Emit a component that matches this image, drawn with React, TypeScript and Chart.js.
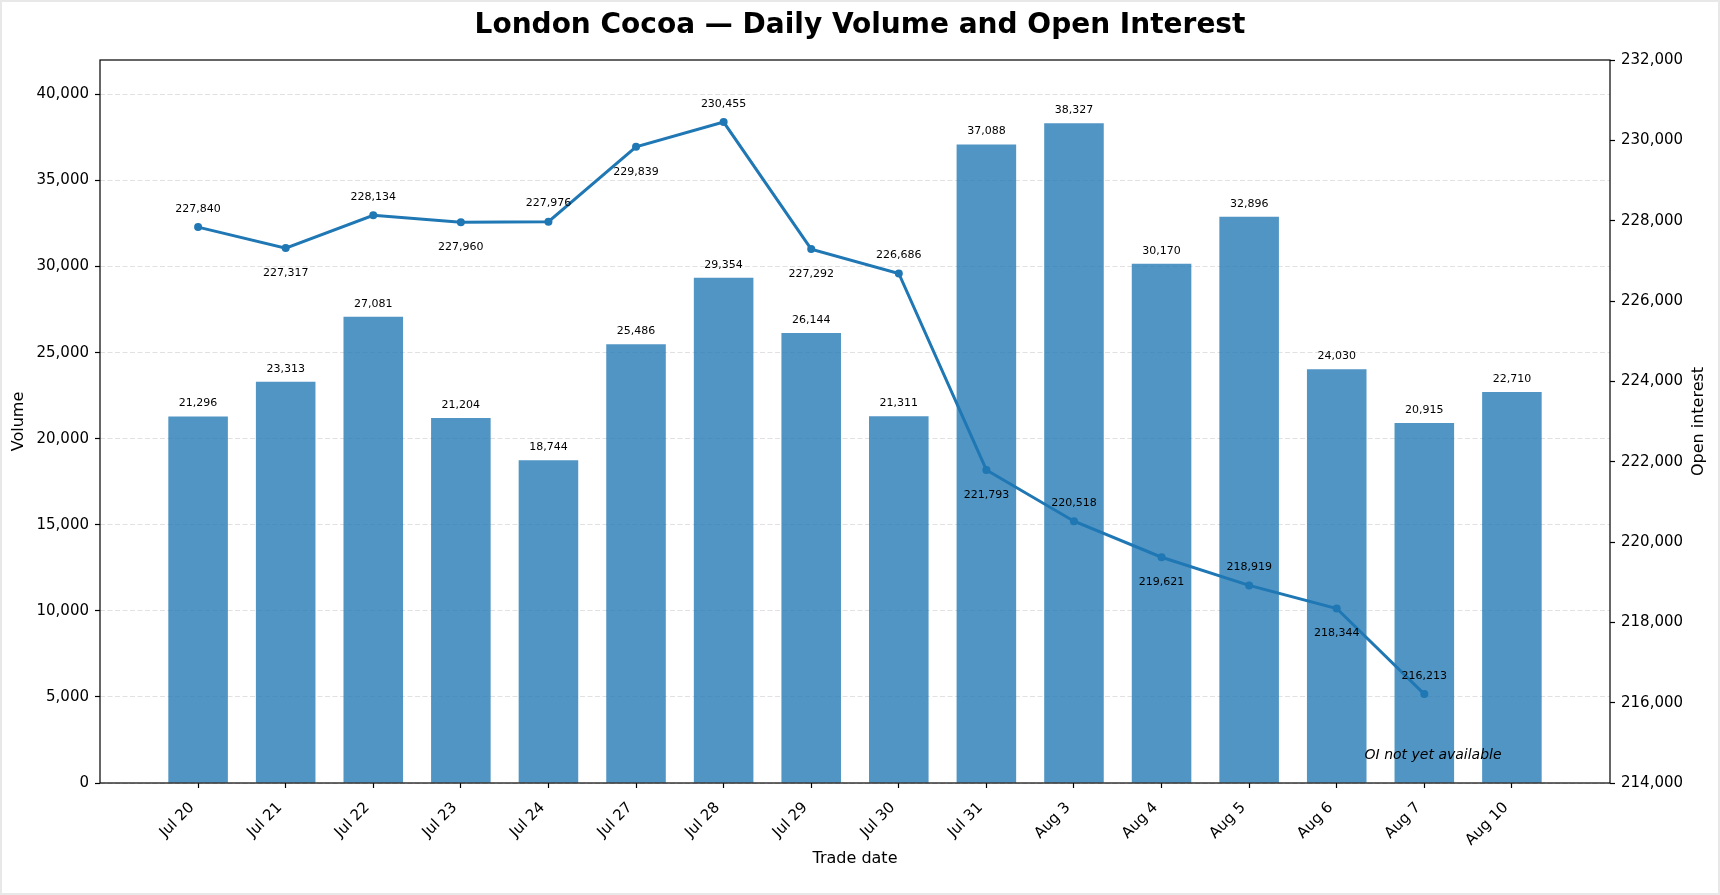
import React, { useEffect, useRef } from "react";
import { Chart, registerables } from "chart.js";

Chart.register(...registerables);

const tradeDates = [
  "Jul 20", "Jul 21", "Jul 22", "Jul 23", "Jul 24", "Jul 27", "Jul 28", "Jul 29",
  "Jul 30", "Jul 31", "Aug 3", "Aug 4", "Aug 5", "Aug 6", "Aug 7", "Aug 10",
];
const volume = [
  21296, 23313, 27081, 21204, 18744, 25486, 29354, 26144,
  21311, 37088, 38327, 30170, 32896, 24030, 20915, 22710,
];
const openInterest: (number | null)[] = [
  227840, 227317, 228134, 227960, 227976, 229839, 230455, 227292,
  226686, 221793, 220518, 219621, 218919, 218344, 216213, null,
];
const volumeTicks = [0, 5000, 10000, 15000, 20000, 25000, 30000, 35000, 40000];
const oiTicks = [214000, 216000, 218000, 220000, 222000, 224000, 226000, 228000, 230000, 232000];

const FONT = "'DejaVu Sans', sans-serif";
const fmt = (v: number) => Number(v).toLocaleString("en-US");

const labelsPlugin = {
  id: "valueLabels",
  afterDatasetsDraw(chart: any) {
    const { ctx, scales } = chart;
    const x = scales.x;
    const y = scales.y;
    const y1 = scales.y1;
    ctx.save();
    ctx.fillStyle = "#000";
    ctx.textAlign = "center";
    ctx.textBaseline = "middle";
    ctx.font = `11px ${FONT}`;
    volume.forEach((v, i) => {
      ctx.fillText(fmt(v), x.getPixelForValue(i), y.getPixelForValue(v) - 13);
    });
    openInterest.forEach((v, i) => {
      if (v == null) return;
      const off = i % 2 === 0 ? -18 : 25;
      ctx.fillText(fmt(v), x.getPixelForValue(i), y1.getPixelForValue(v) + off);
    });
    ctx.font = `italic 14px ${FONT}`;
    ctx.fillText("OI not yet available", x.getPixelForValue(14.1), y1.getPixelForValue(214680));
    ctx.restore();
  },
  afterDraw(chart: any) {
    const { ctx, chartArea } = chart;
    ctx.save();
    ctx.strokeStyle = "#000";
    ctx.lineWidth = 1.2;
    ctx.strokeRect(chartArea.left, chartArea.top, chartArea.right - chartArea.left, chartArea.bottom - chartArea.top);
    // right axis title, reading bottom to top like matplotlib
    ctx.translate(1699, (chartArea.top + chartArea.bottom) / 2);
    ctx.rotate(-Math.PI / 2);
    ctx.fillStyle = "#000";
    ctx.font = `16px ${FONT}`;
    ctx.textAlign = "center";
    ctx.textBaseline = "middle";
    ctx.fillText("Open interest", 0, 0);
    ctx.setTransform(1, 0, 0, 1, 0, 0);
    ctx.strokeStyle = "#e8e8e8";
    ctx.lineWidth = 2;
    ctx.strokeRect(1, 1, chart.width - 2, chart.height - 2);
    ctx.restore();
  },
};

const App: React.FC = () => {
  const chartRef = useRef<HTMLCanvasElement | null>(null);

  useEffect(() => {
    document.body.style.margin = "0";
    if (!chartRef.current) return;
    const chart = new Chart(chartRef.current, {
      type: "bar",
      data: {
        datasets: [
          {
            type: "line",
            label: "Open interest",
            data: openInterest.map((v, i) => ({ x: i, y: v })) as any,
            yAxisID: "y1",
            borderColor: "#1f77b4",
            backgroundColor: "#1f77b4",
            borderWidth: 3,
            pointRadius: 4,
            pointBorderWidth: 0,
            tension: 0,
            order: 1,
          },
          {
            type: "bar",
            label: "Volume",
            data: volume.map((v, i) => ({ x: i, y: v })) as any,
            yAxisID: "y",
            backgroundColor: "rgba(31,119,180,0.78)",
            borderWidth: 0,
            barPercentage: 0.68,
            categoryPercentage: 1,
            order: 2,
          },
        ],
      },
      options: {
        responsive: false,
        animation: false,
        layout: { padding: 0 },
        plugins: {
          legend: { display: false },
          tooltip: { enabled: false },
          title: {
            display: true,
            text: "London Cocoa — Daily Volume and Open Interest",
            color: "#000",
            font: { family: FONT, size: 28, weight: "bold" },
            padding: { top: 9.2, bottom: 17.2 },
          },
        },
        scales: {
          x: {
            type: "linear",
            position: "bottom",
            min: -1.12,
            max: 16.12,
            offset: false,
            afterBuildTicks: (s: any) => {
              s.ticks = tradeDates.map((_, i) => ({ value: i }));
            },
            afterFit: (s: any) => {
              s.height = 112;
            },
            ticks: {
              autoSkip: false,
              minRotation: 45,
              maxRotation: 45,
              color: "#000",
              font: { family: FONT, size: 15 },
              padding: 11,
              labelOffset: -6,
              callback: (_v: any, i: number) => tradeDates[i],
            },
            grid: {
              offset: false,
              drawOnChartArea: false,
              drawTicks: true,
              tickLength: 5,
              tickColor: "#000",
              tickWidth: 1.2,
            },
            border: { display: false },
            title: {
              display: true,
              text: "Trade date",
              color: "#000",
              font: { family: FONT, size: 16 },
              padding: { top: 0, bottom: 26.4 },
            },
          },
          y: {
            type: "linear",
            position: "left",
            min: 0,
            max: 42000,
            afterBuildTicks: (s: any) => {
              s.ticks = volumeTicks.map((v) => ({ value: v }));
            },
            afterFit: (s: any) => {
              s.width = 100;
            },
            ticks: {
              color: "#000",
              font: { family: FONT, size: 15 },
              padding: 6,
              callback: (v: any) => fmt(v),
            },
            grid: {
              color: "rgba(170,170,170,0.35)",
              lineWidth: 1,
              drawTicks: true,
              tickLength: 5,
              tickColor: "#000",
              tickWidth: 1.2,
              tickBorderDash: [],
            },
            border: { display: false, dash: [5, 2.5] },
            title: {
              display: true,
              text: "Volume",
              color: "#000",
              font: { family: FONT, size: 16 },
              padding: { top: 9.4, bottom: 0 },
            },
          },
          y1: {
            type: "linear",
            position: "right",
            min: 214000,
            max: 232000,
            afterBuildTicks: (s: any) => {
              s.ticks = oiTicks.map((v) => ({ value: v }));
            },
            afterFit: (s: any) => {
              s.width = 110;
            },
            ticks: {
              color: "#000",
              font: { family: FONT, size: 15 },
              padding: 6,
              callback: (v: any) => fmt(v),
            },
            grid: {
              drawOnChartArea: false,
              drawTicks: true,
              tickLength: 5,
              tickColor: "#000",
              tickWidth: 1.2,
            },
            border: { display: false },
          },
        },
      } as any,
      plugins: [labelsPlugin],
    });

    return () => {
      chart.destroy();
    };
  }, []);

  return (
    <div style={{ width: 1720, height: 895 }}>
      <canvas ref={chartRef} width={1720} height={895} />
    </div>
  );
};

export default App;
